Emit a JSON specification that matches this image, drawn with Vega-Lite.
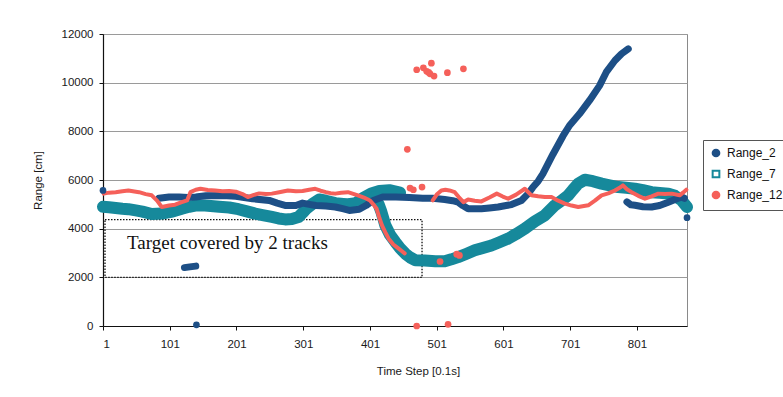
{
  "$schema": "https://vega.github.io/schema/vega-lite/v6.json",
  "width": 584,
  "height": 292,
  "autosize": {"type": "none"},
  "padding": {"left": 103, "top": 34, "right": 96, "bottom": 71},
  "background": "white",
  "config": {
    "view": {"stroke": "#8a8a8a", "strokeWidth": 1},
    "font": "Liberation Sans",
    "axis": {
      "labelFont": "Liberation Sans", "titleFont": "Liberation Sans",
      "labelFontSize": 11.5, "titleFontSize": 11.5,
      "labelColor": "#1a1a1a", "titleColor": "#1a1a1a",
      "titleFontWeight": "normal", "domainColor": "#111", "tickColor": "#111"
    },
    "legend": {"symbolStrokeWidth": 2}
  },
  "datasets": {
    "box": [{"step": 4, "step2": 479, "value": 2000, "value2": 4370}],
    "note": [{"step": 37, "value": 3400, "label": "Target covered by 2 tracks"}],
    "teal": [
      {"seg": "a", "step": 1, "value": 4900}, {"seg": "a", "step": 10, "value": 4880}, {"seg": "a", "step": 20, "value": 4850},
      {"seg": "a", "step": 30, "value": 4820}, {"seg": "a", "step": 39, "value": 4800}, {"seg": "a", "step": 50, "value": 4750},
      {"seg": "a", "step": 60, "value": 4700}, {"seg": "a", "step": 74, "value": 4600}, {"seg": "a", "step": 89, "value": 4620},
      {"seg": "a", "step": 105, "value": 4700}, {"seg": "a", "step": 119, "value": 4820}, {"seg": "a", "step": 130, "value": 4900},
      {"seg": "a", "step": 139, "value": 4950}, {"seg": "a", "step": 154, "value": 4950}, {"seg": "a", "step": 175, "value": 4900},
      {"seg": "a", "step": 190, "value": 4870}, {"seg": "a", "step": 204, "value": 4800}, {"seg": "a", "step": 215, "value": 4720},
      {"seg": "a", "step": 229, "value": 4620}, {"seg": "a", "step": 240, "value": 4560}, {"seg": "a", "step": 254, "value": 4480},
      {"seg": "a", "step": 264, "value": 4420}, {"seg": "a", "step": 274, "value": 4380}, {"seg": "a", "step": 284, "value": 4400},
      {"seg": "a", "step": 294, "value": 4480}, {"seg": "a", "step": 300, "value": 4650}, {"seg": "a", "step": 305, "value": 4800},
      {"seg": "a", "step": 314, "value": 5000}, {"seg": "a", "step": 325, "value": 5200}, {"seg": "a", "step": 335, "value": 5150},
      {"seg": "a", "step": 349, "value": 5050}, {"seg": "a", "step": 365, "value": 5000}, {"seg": "a", "step": 380, "value": 5050},
      {"seg": "a", "step": 390, "value": 5250}, {"seg": "a", "step": 403, "value": 5450}, {"seg": "a", "step": 415, "value": 5550},
      {"seg": "a", "step": 430, "value": 5580}, {"seg": "a", "step": 446, "value": 5480},
      {"seg": "b", "step": 408, "value": 5300}, {"seg": "b", "step": 414, "value": 5000}, {"seg": "b", "step": 418, "value": 4700},
      {"seg": "b", "step": 424, "value": 4140}, {"seg": "b", "step": 431, "value": 3750}, {"seg": "b", "step": 439, "value": 3450},
      {"seg": "b", "step": 446, "value": 3200}, {"seg": "b", "step": 454, "value": 2970}, {"seg": "b", "step": 461, "value": 2820},
      {"seg": "b", "step": 469, "value": 2700}, {"seg": "b", "step": 483, "value": 2690}, {"seg": "b", "step": 499, "value": 2660},
      {"seg": "b", "step": 513, "value": 2660}, {"seg": "b", "step": 523, "value": 2740}, {"seg": "b", "step": 533, "value": 2830},
      {"seg": "b", "step": 545, "value": 2960}, {"seg": "b", "step": 558, "value": 3110}, {"seg": "b", "step": 570, "value": 3210},
      {"seg": "b", "step": 583, "value": 3310}, {"seg": "b", "step": 595, "value": 3440}, {"seg": "b", "step": 608, "value": 3590},
      {"seg": "b", "step": 620, "value": 3780}, {"seg": "b", "step": 633, "value": 4000}, {"seg": "b", "step": 648, "value": 4300},
      {"seg": "b", "step": 663, "value": 4550}, {"seg": "b", "step": 678, "value": 4960}, {"seg": "b", "step": 688, "value": 5150},
      {"seg": "b", "step": 698, "value": 5370}, {"seg": "b", "step": 705, "value": 5600}, {"seg": "b", "step": 713, "value": 5850},
      {"seg": "b", "step": 723, "value": 6010}, {"seg": "b", "step": 735, "value": 5950}, {"seg": "b", "step": 748, "value": 5850},
      {"seg": "b", "step": 760, "value": 5780}, {"seg": "b", "step": 773, "value": 5710}, {"seg": "b", "step": 785, "value": 5680},
      {"seg": "b", "step": 798, "value": 5640}, {"seg": "b", "step": 810, "value": 5580}, {"seg": "b", "step": 823, "value": 5500},
      {"seg": "b", "step": 835, "value": 5470}, {"seg": "b", "step": 848, "value": 5440}, {"seg": "b", "step": 858, "value": 5350},
      {"seg": "b", "step": 868, "value": 5160}, {"seg": "b", "step": 876, "value": 4890}
    ],
    "blue": [
      {"seg": "a", "step": 85, "value": 5250}, {"seg": "a", "step": 100, "value": 5300}, {"seg": "a", "step": 115, "value": 5300},
      {"seg": "a", "step": 128, "value": 5280}, {"seg": "a", "step": 140, "value": 5300}, {"seg": "a", "step": 155, "value": 5350},
      {"seg": "a", "step": 180, "value": 5360}, {"seg": "a", "step": 200, "value": 5330}, {"seg": "a", "step": 225, "value": 5230},
      {"seg": "a", "step": 250, "value": 5160}, {"seg": "a", "step": 262, "value": 5050}, {"seg": "a", "step": 275, "value": 4950},
      {"seg": "a", "step": 290, "value": 4950}, {"seg": "a", "step": 300, "value": 5050}, {"seg": "a", "step": 310, "value": 5000},
      {"seg": "a", "step": 320, "value": 4950}, {"seg": "a", "step": 335, "value": 4930}, {"seg": "a", "step": 349, "value": 4890},
      {"seg": "a", "step": 360, "value": 4820}, {"seg": "a", "step": 370, "value": 4750}, {"seg": "a", "step": 385, "value": 4800},
      {"seg": "a", "step": 395, "value": 4950}, {"seg": "a", "step": 405, "value": 5150}, {"seg": "a", "step": 420, "value": 5300},
      {"seg": "a", "step": 440, "value": 5300}, {"seg": "a", "step": 460, "value": 5280}, {"seg": "a", "step": 480, "value": 5250},
      {"seg": "a", "step": 495, "value": 5250}, {"seg": "a", "step": 513, "value": 5200}, {"seg": "a", "step": 525, "value": 5150},
      {"seg": "a", "step": 533, "value": 5090}, {"seg": "a", "step": 540, "value": 4950}, {"seg": "a", "step": 548, "value": 4820},
      {"seg": "a", "step": 568, "value": 4820}, {"seg": "a", "step": 580, "value": 4850}, {"seg": "a", "step": 593, "value": 4890},
      {"seg": "a", "step": 605, "value": 4950}, {"seg": "a", "step": 613, "value": 4990}, {"seg": "a", "step": 628, "value": 5160},
      {"seg": "a", "step": 638, "value": 5440}, {"seg": "a", "step": 645, "value": 5700}, {"seg": "a", "step": 653, "value": 5950},
      {"seg": "a", "step": 660, "value": 6250}, {"seg": "a", "step": 675, "value": 7050}, {"seg": "a", "step": 690, "value": 7800},
      {"seg": "a", "step": 700, "value": 8240}, {"seg": "a", "step": 715, "value": 8720}, {"seg": "a", "step": 730, "value": 9270},
      {"seg": "a", "step": 745, "value": 9880}, {"seg": "a", "step": 755, "value": 10430}, {"seg": "a", "step": 768, "value": 10910},
      {"seg": "a", "step": 778, "value": 11190}, {"seg": "a", "step": 788, "value": 11390},
      {"seg": "b", "step": 123, "value": 2400}, {"seg": "b", "step": 131, "value": 2430}, {"seg": "b", "step": 140, "value": 2460},
      {"seg": "c", "step": 786, "value": 5100}, {"seg": "c", "step": 792, "value": 4980}, {"seg": "c", "step": 798, "value": 4960},
      {"seg": "c", "step": 810, "value": 4900}, {"seg": "c", "step": 823, "value": 4890}, {"seg": "c", "step": 835, "value": 4950},
      {"seg": "c", "step": 848, "value": 5090}, {"seg": "c", "step": 858, "value": 5200}, {"seg": "c", "step": 868, "value": 5300},
      {"seg": "c", "step": 872, "value": 5250}
    ],
    "red": [
      {"seg": "a", "step": 2, "value": 5440}, {"seg": "a", "step": 10, "value": 5480}, {"seg": "a", "step": 20, "value": 5500},
      {"seg": "a", "step": 30, "value": 5540}, {"seg": "a", "step": 39, "value": 5570}, {"seg": "a", "step": 48, "value": 5530},
      {"seg": "a", "step": 55, "value": 5500}, {"seg": "a", "step": 65, "value": 5420}, {"seg": "a", "step": 74, "value": 5370},
      {"seg": "a", "step": 82, "value": 5150}, {"seg": "a", "step": 89, "value": 4890}, {"seg": "a", "step": 100, "value": 4950},
      {"seg": "a", "step": 109, "value": 4985}, {"seg": "a", "step": 118, "value": 5080}, {"seg": "a", "step": 127, "value": 5160},
      {"seg": "a", "step": 132, "value": 5500}, {"seg": "a", "step": 140, "value": 5600}, {"seg": "a", "step": 147, "value": 5640},
      {"seg": "a", "step": 158, "value": 5590}, {"seg": "a", "step": 169, "value": 5570}, {"seg": "a", "step": 180, "value": 5540},
      {"seg": "a", "step": 190, "value": 5550}, {"seg": "a", "step": 200, "value": 5520}, {"seg": "a", "step": 210, "value": 5420},
      {"seg": "a", "step": 218, "value": 5300}, {"seg": "a", "step": 226, "value": 5380}, {"seg": "a", "step": 235, "value": 5450},
      {"seg": "a", "step": 245, "value": 5420}, {"seg": "a", "step": 254, "value": 5440}, {"seg": "a", "step": 265, "value": 5500},
      {"seg": "a", "step": 278, "value": 5570}, {"seg": "a", "step": 290, "value": 5540}, {"seg": "a", "step": 300, "value": 5550},
      {"seg": "a", "step": 310, "value": 5600}, {"seg": "a", "step": 319, "value": 5640}, {"seg": "a", "step": 327, "value": 5560},
      {"seg": "a", "step": 335, "value": 5500}, {"seg": "a", "step": 342, "value": 5460}, {"seg": "a", "step": 349, "value": 5440},
      {"seg": "a", "step": 358, "value": 5480}, {"seg": "a", "step": 368, "value": 5500}, {"seg": "a", "step": 376, "value": 5430},
      {"seg": "a", "step": 383, "value": 5370}, {"seg": "a", "step": 392, "value": 5280}, {"seg": "a", "step": 401, "value": 5160},
      {"seg": "a", "step": 406, "value": 5000}, {"seg": "a", "step": 411, "value": 4820}, {"seg": "a", "step": 415, "value": 4450},
      {"seg": "a", "step": 419, "value": 4135}, {"seg": "a", "step": 424, "value": 3850}, {"seg": "a", "step": 429, "value": 3590},
      {"seg": "a", "step": 436, "value": 3350}, {"seg": "a", "step": 444, "value": 3180}, {"seg": "a", "step": 449, "value": 3070},
      {"seg": "a", "step": 453, "value": 2985},
      {"seg": "b", "step": 495, "value": 5160}, {"seg": "b", "step": 501, "value": 5400}, {"seg": "b", "step": 508, "value": 5570},
      {"seg": "b", "step": 514, "value": 5600}, {"seg": "b", "step": 520, "value": 5570}, {"seg": "b", "step": 528, "value": 5500},
      {"seg": "b", "step": 534, "value": 5300}, {"seg": "b", "step": 541, "value": 5090}, {"seg": "b", "step": 548, "value": 5200},
      {"seg": "b", "step": 558, "value": 5150}, {"seg": "b", "step": 568, "value": 5120}, {"seg": "b", "step": 580, "value": 5280},
      {"seg": "b", "step": 591, "value": 5440}, {"seg": "b", "step": 600, "value": 5320}, {"seg": "b", "step": 608, "value": 5230},
      {"seg": "b", "step": 620, "value": 5400}, {"seg": "b", "step": 633, "value": 5640}, {"seg": "b", "step": 643, "value": 5370},
      {"seg": "b", "step": 653, "value": 5330}, {"seg": "b", "step": 663, "value": 5300}, {"seg": "b", "step": 673, "value": 5300},
      {"seg": "b", "step": 683, "value": 5150}, {"seg": "b", "step": 693, "value": 5030}, {"seg": "b", "step": 703, "value": 4950},
      {"seg": "b", "step": 713, "value": 4890}, {"seg": "b", "step": 728, "value": 4960}, {"seg": "b", "step": 738, "value": 5150},
      {"seg": "b", "step": 748, "value": 5370}, {"seg": "b", "step": 758, "value": 5450}, {"seg": "b", "step": 768, "value": 5570},
      {"seg": "b", "step": 775, "value": 5680}, {"seg": "b", "step": 780, "value": 5780}, {"seg": "b", "step": 786, "value": 5620},
      {"seg": "b", "step": 793, "value": 5500}, {"seg": "b", "step": 803, "value": 5350}, {"seg": "b", "step": 813, "value": 5230},
      {"seg": "b", "step": 823, "value": 5330}, {"seg": "b", "step": 833, "value": 5440}, {"seg": "b", "step": 843, "value": 5420},
      {"seg": "b", "step": 853, "value": 5440}, {"seg": "b", "step": 865, "value": 5370}, {"seg": "b", "step": 870, "value": 5480},
      {"seg": "b", "step": 875, "value": 5600}
    ],
    "pts": [
      {"series": "Range_2", "step": 1, "value": 5570},
      {"series": "Range_2", "step": 141, "value": 50},
      {"series": "Range_2", "step": 876, "value": 4450},
      {"series": "Range_12", "step": 457, "value": 7260},
      {"series": "Range_12", "step": 461, "value": 5670},
      {"series": "Range_12", "step": 466, "value": 5600},
      {"series": "Range_12", "step": 471, "value": 10530},
      {"series": "Range_12", "step": 471, "value": 0},
      {"series": "Range_12", "step": 479, "value": 5710},
      {"series": "Range_12", "step": 481, "value": 10610},
      {"series": "Range_12", "step": 486, "value": 10470},
      {"series": "Range_12", "step": 489, "value": 10420},
      {"series": "Range_12", "step": 491, "value": 10365},
      {"series": "Range_12", "step": 493, "value": 10800},
      {"series": "Range_12", "step": 497, "value": 10270},
      {"series": "Range_12", "step": 506, "value": 2650},
      {"series": "Range_12", "step": 517, "value": 10410},
      {"series": "Range_12", "step": 518, "value": 70},
      {"series": "Range_12", "step": 531, "value": 2950},
      {"series": "Range_12", "step": 535, "value": 2900},
      {"series": "Range_12", "step": 541, "value": 10570}
    ]
  },
  "encoding": {
    "x": {"field": "step", "type": "quantitative",
      "scale": {"domain": [1, 876], "nice": false, "zero": false},
      "axis": {"title": "Time Step [0.1s]", "values": [1, 101, 201, 301, 401, 501, 601, 701, 801], "format": "d",
        "grid": false, "tickSize": 4, "labelPadding": 8, "domainWidth": 1.2,
        "titleX": 315, "titleY": 45, "titleBaseline": "middle"}},
    "y": {"field": "value", "type": "quantitative",
      "scale": {"domain": [0, 12000], "nice": false, "zero": true},
      "axis": {"title": "Range [cm]", "values": [0, 2000, 4000, 6000, 8000, 10000, 12000], "format": "d",
        "grid": true, "gridColor": "#9a9a9a", "gridWidth": 1.2, "tickSize": 4, "labelPadding": 6, "domainWidth": 1.2,
        "titleX": -65, "titleY": 146, "titleAngle": -90, "titleBaseline": "middle"}}
  },
  "layer": [
    {
      "data": {"name": "box"},
      "mark": {"type": "rect", "fill": null, "fillOpacity": 0, "stroke": "#111", "strokeWidth": 1.3, "strokeDash": [1.5, 1.5]},
      "encoding": {
        "x2": {"field": "step2"},
        "y2": {"field": "value2"}
      }
    },
    {
      "data": {"name": "teal"},
      "mark": {"type": "line", "color": "#16899b", "strokeWidth": 12, "strokeCap": "round", "strokeJoin": "round"},
      "encoding": {"detail": {"field": "seg", "type": "nominal"}}
    },
    {
      "data": {"name": "blue"},
      "mark": {"type": "line", "color": "#1d4f86", "strokeWidth": 7, "strokeCap": "round", "strokeJoin": "round"},
      "encoding": {"detail": {"field": "seg", "type": "nominal"}}
    },
    {
      "data": {"name": "red"},
      "mark": {"type": "line", "color": "#f5605a", "strokeWidth": 4, "strokeCap": "round", "strokeJoin": "round"},
      "encoding": {"detail": {"field": "seg", "type": "nominal"}}
    },
    {
      "data": {"name": "pts"},
      "mark": {"type": "point", "filled": true, "opacity": 1, "strokeWidth": 0},
      "encoding": {
        "fill": {"field": "series", "type": "nominal",
          "scale": {"domain": ["Range_2", "Range_7", "Range_12"], "range": ["#1d4f86", "#ffffff", "#f5605a"]},
          "legend": {"orient": "none", "legendX": 600, "legendY": 106, "title": null,
            "strokeColor": "#555", "fillColor": "white", "padding": 7,
            "labelFont": "Liberation Sans", "labelFontSize": 12, "labelColor": "#111",
            "rowPadding": 5, "labelOffset": 5}},
        "stroke": {"field": "series", "type": "nominal",
          "scale": {"domain": ["Range_2", "Range_7", "Range_12"], "range": ["#1d4f86", "#16899b", "#f5605a"]},
          "legend": {"orient": "none", "legendX": 600, "legendY": 106, "title": null,
            "strokeColor": "#555", "fillColor": "white", "padding": 7,
            "labelFont": "Liberation Sans", "labelFontSize": 12, "labelColor": "#111",
            "rowPadding": 5, "labelOffset": 5}},
        "shape": {"field": "series", "type": "nominal",
          "scale": {"domain": ["Range_2", "Range_7", "Range_12"], "range": ["circle", "square", "circle"]},
          "legend": {"orient": "none", "legendX": 600, "legendY": 106, "title": null,
            "strokeColor": "#555", "fillColor": "white", "padding": 7,
            "labelFont": "Liberation Sans", "labelFontSize": 12, "labelColor": "#111",
            "rowPadding": 5, "labelOffset": 5}},
        "size": {"field": "series", "type": "nominal",
          "scale": {"domain": ["Range_2", "Range_7", "Range_12"], "range": [45, 45, 16]},
          "legend": {"orient": "none", "legendX": 600, "legendY": 106, "title": null,
            "strokeColor": "#555", "fillColor": "white", "padding": 7,
            "labelFont": "Liberation Sans", "labelFontSize": 12, "labelColor": "#111",
            "rowPadding": 5, "labelOffset": 5}}
      }
    },
    {
      "data": {"name": "note"},
      "mark": {"type": "text", "font": "Liberation Serif", "fontSize": 19, "align": "left", "baseline": "middle", "color": "#111"},
      "encoding": {"text": {"field": "label"}}
    }
  ]
}
